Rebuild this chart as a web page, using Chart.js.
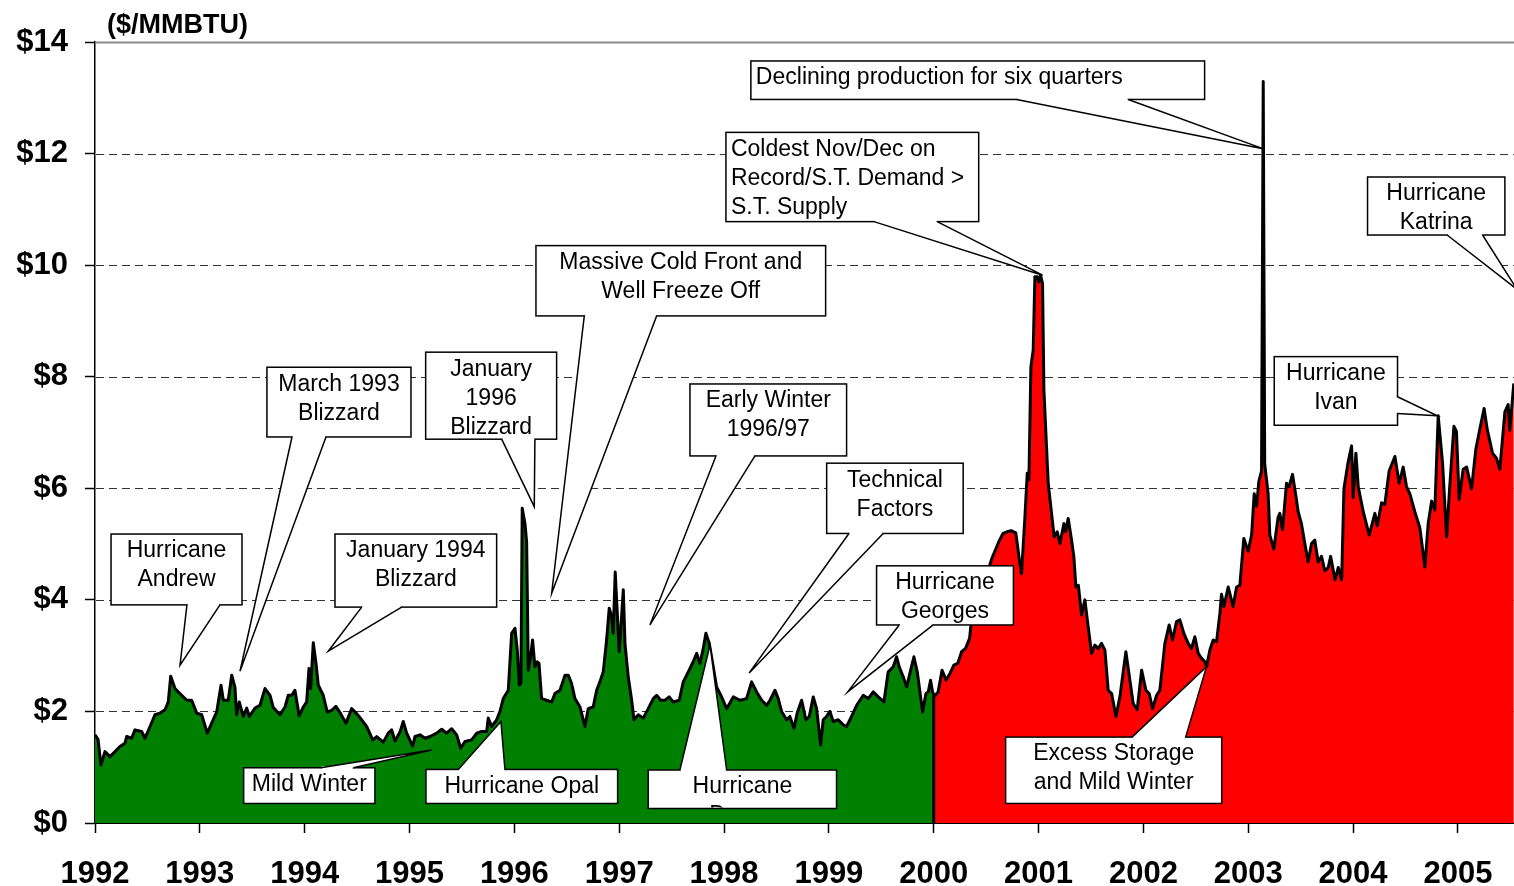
<!DOCTYPE html>
<html>
<head>
<meta charset="utf-8">
<script src="https://cdn.jsdelivr.net/npm/chart.js@4/dist/chart.umd.min.js"></script>
<style>
  html, body { margin: 0; padding: 0; background: #fff; }
  canvas { display: block; }
</style>
</head>
<body>
<canvas id="gasChart" width="1514" height="886"></canvas>
<script>
// Natural gas price ($/MMBTU).
// Green: 1992-1999, red: 2000 onwards.
var yearTicks  = [1992,1993,1994,1995,1996,1997,1998,1999,2000,2001,2002,2003,2004,2005];
var priceTicks = [0,2,4,6,8,10,12,14];

var greenDates = [
  1992.000,1992.029,1992.057,1992.095,1992.143,1992.191,1992.238,1992.286,1992.302,1992.350,1992.381,1992.445,1992.477,1992.525,1992.572,1992.620,1992.668,1992.699,1992.722,1992.763,1992.794,1992.827,1992.875,1992.922,1992.970,
  1993.018,1993.071,1993.113,1993.161,1993.202,1993.224,1993.271,1993.304,1993.335,1993.351,1993.376,1993.414,1993.447,1993.472,1993.526,1993.574,1993.621,1993.669,1993.701,1993.764,1993.812,1993.844,1993.876,1993.907,1993.948,1993.987,
  1994.019,1994.041,1994.057,1994.082,1994.108,1994.130,1994.177,1994.215,1994.257,1994.298,1994.343,1994.394,1994.448,1994.496,1994.544,1994.591,1994.649,1994.687,1994.750,1994.797,1994.830,1994.861,1994.909,1994.940,1994.973,
  1995.030,1995.052,1995.100,1995.147,1995.195,1995.259,1995.307,1995.354,1995.402,1995.450,1995.488,1995.529,1995.593,1995.641,1995.688,1995.736,1995.751,1995.783,1995.831,1995.863,1995.894,1995.942,1995.974,
  1996.006,1996.028,1996.047,1996.063,1996.075,1996.101,1996.117,1996.133,1996.155,1996.174,1996.196,1996.218,1996.235,1996.260,1996.308,1996.356,1996.387,1996.435,1996.483,1996.514,1996.546,1996.578,1996.626,1996.673,1996.705,1996.752,1996.785,1996.816,1996.848,1996.880,1996.905,1996.928,1996.943,1996.962,1996.981,
  1997.000,1997.023,1997.039,1997.055,1997.086,1997.119,1997.141,1997.182,1997.229,1997.277,1997.325,1997.357,1997.395,1997.436,1997.477,1997.515,1997.573,1997.611,1997.659,1997.706,1997.739,1997.770,1997.802,1997.827,1997.859,1997.897,1997.929,1997.977,
  1998.025,1998.088,1998.152,1998.215,1998.263,1998.311,1998.359,1998.406,1998.438,1998.486,1998.517,1998.549,1998.597,1998.628,1998.667,1998.698,1998.740,1998.781,1998.813,1998.851,1998.883,1998.921,1998.946,1998.978,
  1999.010,1999.041,1999.089,1999.137,1999.169,1999.201,1999.265,1999.328,1999.375,1999.423,1999.471,1999.525,1999.566,1999.614,1999.646,1999.671,1999.709,1999.742,1999.780,1999.811,1999.843,1999.875,1999.894,1999.926,1999.948,1999.970,1999.989,
  2000.000,2000.000
];
var greenPrices = [
  1.58,1.50,1.04,1.28,1.19,1.28,1.37,1.43,1.55,1.52,1.67,1.64,1.52,1.73,1.94,1.97,2.03,2.17,2.63,2.41,2.35,2.29,2.20,2.20,1.97,
  1.94,1.61,1.79,1.99,2.47,2.20,2.20,2.65,2.43,1.94,2.17,1.91,2.06,1.91,2.06,2.11,2.41,2.29,2.07,1.94,2.08,2.29,2.29,2.38,1.92,2.08,
  2.17,2.77,2.41,3.23,2.86,2.47,2.29,1.99,2.02,2.09,1.96,1.79,2.05,1.96,1.85,1.73,1.49,1.55,1.45,1.61,1.67,1.47,1.63,1.82,1.61,
  1.38,1.55,1.58,1.52,1.55,1.61,1.68,1.61,1.69,1.58,1.34,1.46,1.49,1.61,1.64,1.64,1.88,1.73,1.85,2.00,2.23,2.38,3.40,
  3.49,3.10,2.47,2.52,5.64,5.37,5.04,2.74,2.98,3.28,2.80,2.89,2.86,2.23,2.20,2.17,2.32,2.38,2.65,2.65,2.50,2.23,2.08,1.73,2.05,2.08,2.38,2.53,2.71,3.28,3.85,3.70,3.40,4.50,3.79,
  3.07,3.70,4.18,3.22,2.62,2.20,1.85,1.94,1.88,2.05,2.23,2.29,2.20,2.20,2.26,2.17,2.20,2.53,2.71,2.89,3.04,2.86,3.13,3.40,3.22,2.80,2.44,2.26,
  2.05,2.26,2.20,2.23,2.53,2.35,2.20,2.11,2.20,2.38,2.23,2.00,1.85,1.91,1.70,1.97,2.20,1.85,1.91,2.26,2.05,1.40,1.85,1.91,
  2.00,1.82,1.85,1.76,1.73,1.85,2.11,2.29,2.23,2.35,2.26,2.17,2.71,2.80,2.98,2.80,2.62,2.44,2.74,2.98,2.71,2.26,1.99,2.32,2.35,2.56,2.35,
  2.30,0
];

var redDates = [
  2000.000,2000.042,2000.079,2000.118,2000.155,2000.192,2000.229,2000.266,2000.304,2000.342,2000.360,2000.413,2000.479,2000.556,2000.623,2000.661,2000.699,2000.738,2000.783,2000.822,2000.838,2000.870,2000.892,2000.908,2000.927,2000.949,2000.965,2000.987,
  2001.003,2001.019,2001.038,2001.051,2001.092,2001.124,2001.149,2001.178,2001.204,2001.242,2001.258,2001.283,2001.315,2001.337,2001.356,2001.380,2001.410,2001.442,2001.473,2001.506,2001.537,2001.569,2001.601,2001.633,2001.664,2001.697,2001.738,2001.776,2001.833,2001.871,2001.903,2001.941,2001.983,
  2002.024,2002.055,2002.088,2002.126,2002.157,2002.205,2002.246,2002.278,2002.316,2002.348,2002.386,2002.427,2002.459,2002.491,2002.523,2002.555,2002.587,2002.603,2002.634,2002.666,2002.698,2002.730,2002.745,2002.768,2002.809,2002.856,2002.889,2002.920,2002.958,2002.999,
  2003.032,2003.057,2003.080,2003.101,2003.127,2003.143,2003.157,2003.190,2003.206,2003.244,2003.285,2003.301,2003.327,2003.365,2003.390,2003.422,2003.454,2003.476,2003.508,2003.540,2003.571,2003.604,2003.635,2003.667,2003.699,2003.731,2003.763,2003.786,2003.827,2003.859,2003.891,2003.913,2003.953,2003.986,
  2004.001,2004.027,2004.049,2004.097,2004.154,2004.208,2004.230,2004.272,2004.303,2004.344,2004.399,2004.440,2004.478,2004.510,2004.542,2004.589,2004.637,2004.685,2004.716,2004.749,2004.780,2004.812,2004.854,2004.892,2004.924,2004.962,2004.986,
  2005.012,2005.050,2005.083,2005.130,2005.171,2005.209,2005.250,2005.279,2005.330,2005.368,2005.400,2005.448,2005.479,2005.495,2005.533
];
var redPrices = [
  2.26,2.35,2.74,2.56,2.68,2.83,2.86,3.07,3.13,3.31,3.64,3.75,4.30,4.75,5.05,5.19,5.22,5.24,5.20,4.65,4.47,5.49,6.27,6.15,8.18,8.48,9.79,9.79,
  9.70,9.82,9.67,7.76,6.09,5.55,5.13,5.22,5.01,5.37,5.22,5.46,5.07,4.77,4.23,4.26,3.73,4.00,3.52,3.04,3.19,3.13,3.22,3.10,2.38,2.32,1.91,2.26,3.07,2.56,2.14,2.03,2.74,
  2.38,2.32,2.05,2.29,2.38,3.22,3.55,3.28,3.61,3.64,3.40,3.22,3.13,3.34,3.04,2.95,2.89,2.80,3.10,3.28,3.25,3.76,4.10,3.88,4.23,3.88,4.23,4.26,5.10,4.87,
  5.16,5.90,5.68,6.12,6.31,13.29,6.44,5.90,5.16,4.91,5.48,5.55,5.26,6.09,6.03,6.25,5.87,5.58,5.36,5.01,4.68,5.01,5.07,4.68,4.78,4.52,4.58,4.78,4.36,4.58,4.36,5.99,6.47,6.76,
  5.83,6.63,6.03,5.58,5.16,5.55,5.33,5.74,5.71,6.31,6.57,6.09,6.38,6.03,5.90,5.58,5.29,4.59,5.36,5.77,5.61,7.30,6.44,5.13,6.09,7.11,7.02,
  5.80,6.34,6.38,5.99,6.70,7.06,7.43,7.06,6.63,6.54,6.34,7.37,7.50,7.04,7.88
];

// callouts: box = [x1, x2, yTop, yBottom] in years / dollars, pointer from one side of the box
var callouts = [
  { lines: ['Hurricane', 'Andrew'], box: [1992.153, 1993.402, 5.18, 3.91], side: 'bottom', base: [1992.877, 1993.192], tip: [1992.811, 2.83] },
  { lines: ['March 1993', 'Blizzard'], box: [1993.640, 1995.014, 8.17, 6.92], side: 'bottom', base: [1993.879, 1994.203], tip: [1993.383, 2.72] },
  { lines: ['January', '1996', 'Blizzard'], box: [1995.154, 1996.403, 8.44, 6.88], side: 'bottom', base: [1995.879, 1996.196], tip: [1996.190, 5.67] },
  { lines: ['January 1994', 'Blizzard'], box: [1994.289, 1995.831, 5.18, 3.87], side: 'bottom', base: [1994.544, 1994.925], tip: [1994.225, 3.08] },
  { lines: ['Massive Cold Front and', 'Well Freeze Off'], box: [1996.206, 1998.969, 10.35, 9.09], side: 'bottom', base: [1996.667, 1997.357], tip: [1996.356, 4.12] },
  { lines: ['Early Winter', '1996/97'], box: [1997.675, 1999.169, 7.87, 6.58], side: 'bottom', base: [1997.923, 1998.295], tip: [1997.293, 3.55] },
  { lines: ['Technical', 'Factors'], box: [1998.979, 2000.281, 6.45, 5.19], side: 'bottom', base: [1999.191, 1999.518], tip: [1998.240, 2.69] },
  { lines: ['Hurricane', 'Georges'], box: [1999.455, 2000.760, 4.61, 3.55], side: 'bottom', base: [1999.671, 1999.995], tip: [1999.179, 2.35] },
  { lines: ['Mild Winter'], box: [1993.418, 1994.670, 0.99, 0.35], side: 'top', base: [1994.153, 1994.464], tip: [1995.211, 1.31] },
  { lines: ['Hurricane Opal'], box: [1995.157, 1996.985, 0.96, 0.35], side: 'top', base: [1995.465, 1995.910], tip: [1995.872, 1.82] },
  { lines: ['Hurricane', 'Danny'], box: [1997.277, 1999.073, 0.95, 0.26], side: 'top', base: [1997.579, 1998.025], tip: [1997.866, 3.19] },
  { lines: ['Declining production for six quarters'], box: [1998.256, 2002.584, 13.66, 12.97], side: 'bottom', base: [2000.791, 2001.855], tip: [2003.153, 12.08], align: 'left' },
  { lines: ['Coldest Nov/Dec on', 'Record/S.T. Demand >', 'S.T. Supply'], box: [1998.018, 2000.429, 12.38, 10.78], side: 'bottom', base: [1999.430, 2000.033], tip: [2001.038, 9.82], align: 'left' },
  { lines: ['Hurricane', 'Katrina'], box: [2004.138, 2005.448, 11.58, 10.54], side: 'bottom', base: [2004.897, 2005.235], tip: [2005.562, 9.57] },
  { lines: ['Hurricane', 'Ivan'], box: [2003.248, 2004.424, 8.36, 7.13], side: 'right', base: [7.64, 7.34], tip: [2004.804, 7.30] },
  { lines: ['Excess Storage', 'and Mild Winter'], box: [2000.686, 2002.747, 1.54, 0.35], side: 'top', base: [2001.892, 2002.403], tip: [2002.602, 2.80] }
];

var FONT = '"Liberation Sans", Arial, Helvetica, sans-serif';
Chart.defaults.font.family = FONT;

function toPoints(xs, ys) {
  return xs.map(function (x, i) { return { x: x, y: ys[i] }; });
}

// dashed horizontal grid under the areas, solid grey line on top
var gridPlugin = {
  id: 'gasGrid',
  beforeDatasetsDraw: function (chart) {
    var ctx = chart.ctx, a = chart.chartArea, ys = chart.scales.y;
    ctx.save();
    priceTicks.forEach(function (v) {
      if (v === 0) return;
      var y = Math.round(ys.getPixelForValue(v)) + 0.5;
      ctx.beginPath();
      if (v === 14) {
        ctx.setLineDash([]);
        ctx.strokeStyle = '#8c8c8c';
        ctx.lineWidth = 2;
      } else {
        ctx.setLineDash([8, 5]);
        ctx.strokeStyle = '#333';
        ctx.lineWidth = 1;
      }
      ctx.moveTo(a.left + 1, y);
      ctx.lineTo(a.right, y);
      ctx.stroke();
    });
    ctx.restore();
  }
};

function drawCallout(chart, c) {
  var ctx = chart.ctx, xs = chart.scales.x, ys = chart.scales.y;
  var L = xs.getPixelForValue(c.box[0]), R = xs.getPixelForValue(c.box[1]);
  var T = ys.getPixelForValue(c.box[2]), B = ys.getPixelForValue(c.box[3]);
  var tx = xs.getPixelForValue(c.tip[0]), ty = ys.getPixelForValue(c.tip[1]);
  var b1, b2;
  if (c.side === 'bottom') {
    b1 = [xs.getPixelForValue(c.base[0]), B]; b2 = [xs.getPixelForValue(c.base[1]), B];
  } else if (c.side === 'top') {
    b1 = [xs.getPixelForValue(c.base[0]), T]; b2 = [xs.getPixelForValue(c.base[1]), T];
  } else {
    b1 = [R, ys.getPixelForValue(c.base[0])]; b2 = [R, ys.getPixelForValue(c.base[1])];
  }
  ctx.save();
  ctx.lineWidth = 1.5;
  ctx.strokeStyle = '#000';
  ctx.fillStyle = '#fff';
  ctx.lineJoin = 'miter';
  ctx.fillRect(L, T, R - L, B - T);
  ctx.strokeRect(L, T, R - L, B - T);
  // pointer wedge
  ctx.beginPath();
  ctx.moveTo(b1[0], b1[1]); ctx.lineTo(tx, ty); ctx.lineTo(b2[0], b2[1]); ctx.closePath();
  ctx.fill();
  if (c.side === 'right') {
    ctx.fillRect(R - 1.5, Math.min(b1[1], b2[1]) + 0.8, 3, Math.abs(b2[1] - b1[1]) - 1.6);
  } else {
    ctx.fillRect(Math.min(b1[0], b2[0]) + 0.8, b1[1] - 1.5, Math.abs(b2[0] - b1[0]) - 1.6, 3);
  }
  ctx.beginPath();
  ctx.moveTo(b1[0], b1[1]); ctx.lineTo(tx, ty); ctx.lineTo(b2[0], b2[1]);
  ctx.stroke();
  // text, clipped to the box
  ctx.beginPath();
  ctx.rect(L + 1, T + 1, R - L - 2, B - T - 2);
  ctx.clip();
  ctx.fillStyle = '#000';
  ctx.font = '23px ' + FONT;
  ctx.textBaseline = 'middle';
  c.lines.forEach(function (s, i) {
    var y = T + 17 + i * 29;
    if (c.align === 'left') {
      ctx.textAlign = 'left';
      ctx.fillText(s, L + 5, y);
    } else {
      ctx.textAlign = 'center';
      ctx.fillText(s, (L + R) / 2, y);
    }
  });
  ctx.restore();
}

var calloutPlugin = {
  id: 'gasCallouts',
  afterDatasetsDraw: function (chart) {
    callouts.forEach(function (c) { drawCallout(chart, c); });
  },
  afterDraw: function (chart) {
    var ctx = chart.ctx;
    ctx.save();
    ctx.fillStyle = '#000';
    ctx.font = 'bold 27px ' + FONT;
    ctx.textAlign = 'left';
    ctx.textBaseline = 'alphabetic';
    ctx.fillText('($/MMBTU)', 107, 33);
    ctx.restore();
  }
};

new Chart(document.getElementById('gasChart'), {
  type: 'line',
  data: {
    datasets: [
      { data: toPoints(greenDates, greenPrices), backgroundColor: '#008000', borderColor: '#000',
        borderWidth: 3, fill: 'origin', pointRadius: 0, tension: 0, borderJoinStyle: 'round' },
      { data: toPoints(redDates, redPrices), backgroundColor: '#ff0000', borderColor: '#000',
        borderWidth: 3, fill: 'origin', pointRadius: 0, tension: 0, borderJoinStyle: 'round' }
    ]
  },
  options: {
    responsive: false,
    animation: false,
    events: [],
    layout: { padding: { top: 42, left: 0, right: 0, bottom: 0 } },
    plugins: { legend: { display: false }, tooltip: { enabled: false } },
    scales: {
      x: {
        type: 'linear', min: 1992, max: 2005.535, z: 1,
        afterBuildTicks: function (s) { s.ticks = yearTicks.map(function (v) { return { value: v }; }); },
        afterFit: function (s) { s.height = 63; s.paddingLeft = 0; s.paddingRight = 0; },
        grid: { drawOnChartArea: false, drawTicks: true, tickLength: 10, tickColor: '#000', tickWidth: 1.5 },
        border: { display: true, color: '#000', width: 2 },
        ticks: { autoSkip: false, maxRotation: 0, padding: 23, color: '#000',
                 font: { size: 31, weight: 'bold' },
                 callback: function (v) { return String(v); } }
      },
      y: {
        min: 0, max: 14, z: 1,
        afterBuildTicks: function (s) { s.ticks = priceTicks.map(function (v) { return { value: v }; }); },
        afterFit: function (s) { s.width = 95; },
        grid: { drawOnChartArea: false, drawTicks: true, tickLength: 10, tickColor: '#000', tickWidth: 1.5 },
        border: { display: true, color: '#000', width: 1.5 },
        ticks: { padding: 17, color: '#000', font: { size: 31, weight: 'bold' },
                 callback: function (v) { return '$' + v; } }
      }
    }
  },
  plugins: [gridPlugin, calloutPlugin]
});
</script>
</body>
</html>
